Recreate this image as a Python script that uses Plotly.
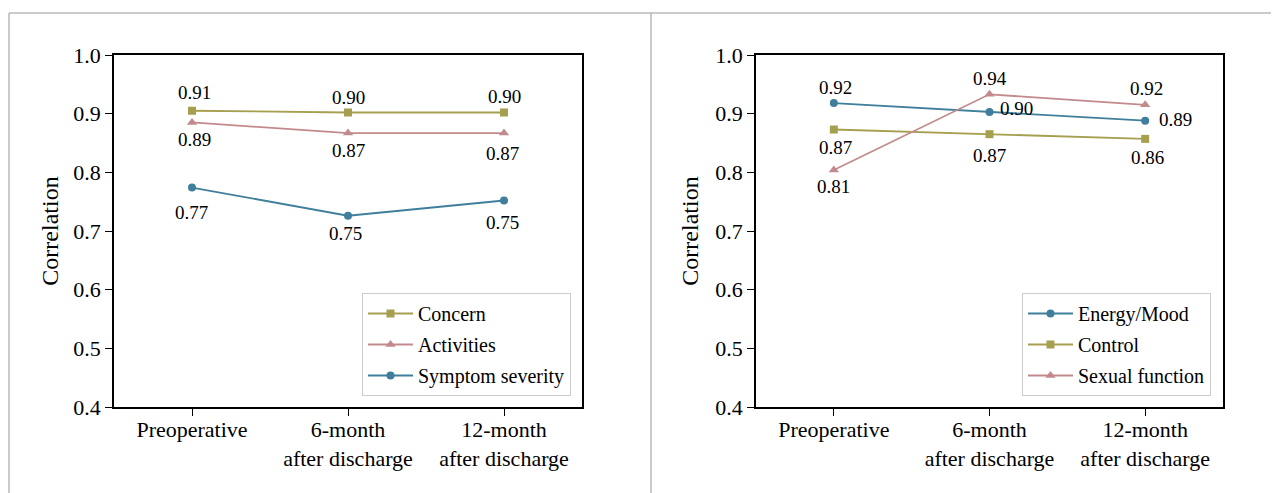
import plotly.graph_objects as go

# ---- data ----
categories = ["Preoperative", "6-month<br>after discharge", "12-month<br>after discharge"]
y_ticks = [0.4, 0.5, 0.6, 0.7, 0.8, 0.9, 1.0]
y_tick_labels = ["0.4", "0.5", "0.6", "0.7", "0.8", "0.9", "1.0"]

concern = [0.905, 0.902, 0.902]
activities = [0.885, 0.867, 0.867]
symptom_severity = [0.774, 0.726, 0.752]
concern_labels = ["0.91", "0.90", "0.90"]
activities_labels = ["0.89", "0.87", "0.87"]
symptom_labels = ["0.77", "0.75", "0.75"]

energy_mood = [0.918, 0.903, 0.888]
control = [0.873, 0.865, 0.857]
sexual_function = [0.804, 0.933, 0.915]
energy_labels = ["0.92", "0.90", "0.89"]
control_labels = ["0.87", "0.87", "0.86"]
sexual_labels = ["0.81", "0.94", "0.92"]

# ---- styles ----
OLIVE = "#a69f50"
PINK = "#c38a8d"
TEAL = "#3f7f9b"
FONT = "Liberation Serif"
FS_LABEL = 19
FS_TICK = 22
FS_TITLE = 24
FS_LEGEND = 20

# label pixel offsets (dx, dy with dy positive = downward)
off_concern = [(2, -18), (0, -15), (0, -16)]
off_activities = [(2, 17), (0, 17), (-2, 20)]
off_symptom = [(-1, 25), (-3, 18), (-2, 22)]
off_energy = [(2, -16), (27, -3), (30, -1)]
off_control = [(2, 18), (0, 21), (2, 19)]
off_sexual = [(0, 17), (0, -16), (1, -16)]

xs = list(range(len(categories)))
fig = go.Figure()

series = [
    ("Concern", concern, OLIVE, "square", "x", "y", "legend", concern_labels, off_concern),
    ("Activities", activities, PINK, "triangle-up", "x", "y", "legend", activities_labels, off_activities),
    ("Symptom severity", symptom_severity, TEAL, "circle", "x", "y", "legend", symptom_labels, off_symptom),
    ("Energy/Mood", energy_mood, TEAL, "circle", "x2", "y2", "legend2", energy_labels, off_energy),
    ("Control", control, OLIVE, "square", "x2", "y2", "legend2", control_labels, off_control),
    ("Sexual function", sexual_function, PINK, "triangle-up", "x2", "y2", "legend2", sexual_labels, off_sexual),
]

annotations = []
for k, (name, vals, col, sym, xa, ya, lg, labs, offs) in enumerate(series):
    fig.add_trace(go.Scatter(
        x=xs, y=vals, name=name, mode="lines+markers",
        line=dict(color=col, width=1.8),
        marker=dict(color=col, symbol=sym, size=9 if sym == "triangle-up" else 8),
        xaxis=xa, yaxis=ya, legend=lg, legendgroup="g%d" % k,
    ))
    for i, (v, t, (dx, dy)) in enumerate(zip(vals, labs, offs)):
        annotations.append(dict(
            x=xs[i], y=v, xref=xa, yref=ya, text=t, showarrow=False,
            xshift=dx, yshift=-dy, font=dict(family=FONT, size=FS_LABEL, color="black"),
        ))

# The page body adds an 8px offset; figure coords = screen coords - 8
OFF = 8
W, H = 1279 - OFF, 493 - OFF
TOP, BOT = 55, 407  # screen y of plot top / bottom
plot_h = BOT - TOP


def px(sx):
    return (sx - OFF) / W


def py(sy):
    return (BOT - sy) / plot_h


axis_common = dict(
    showline=True, linecolor="black", linewidth=1.5, mirror=True,
    ticks="outside", ticklen=7, tickwidth=1.2, tickcolor="black",
    showgrid=False, zeroline=False,
    tickfont=dict(family=FONT, size=FS_TICK, color="black"),
)
title_font = dict(family=FONT, size=FS_TITLE, color="black")

xaxis = dict(axis_common, tickmode="array", tickvals=xs, ticktext=categories,
             range=[-0.5, 2.5], domain=[px(114), px(582)], anchor="y", ticklabelstandoff=-5)
xaxis2 = dict(axis_common, tickmode="array", tickvals=xs, ticktext=categories,
              range=[-0.5, 2.5], domain=[px(756), px(1223)], anchor="y2", ticklabelstandoff=-5)
yaxis = dict(axis_common, tickmode="array", tickvals=y_ticks, ticktext=y_tick_labels,
             range=[0.4, 1.0], domain=[0, 1], anchor="x",
             title=dict(text="Correlation", font=title_font, standoff=8))
yaxis2 = dict(axis_common, tickmode="array", tickvals=y_ticks, ticktext=y_tick_labels,
              range=[0.4, 1.0], domain=[0, 1], anchor="x2",
              title=dict(text="Correlation", font=title_font, standoff=10))

legend_common = dict(
    bgcolor="white", bordercolor="#cccccc", borderwidth=1,
    font=dict(family=FONT, size=FS_LEGEND, color="black"),
    xanchor="right", yanchor="bottom", tracegroupgap=2, itemwidth=45,
)

fig.update_layout(
    width=W, height=H,
    margin=dict(l=0, r=0, t=TOP - OFF, b=493 - BOT, pad=0),
    paper_bgcolor="white", plot_bgcolor="white",
    xaxis=xaxis, xaxis2=xaxis2, yaxis=yaxis, yaxis2=yaxis2,
    legend=dict(legend_common, x=px(571), y=py(396)),
    legend2=dict(legend_common, x=px(1211), y=py(396)),
    annotations=annotations,
    showlegend=True,
    shapes=[
        dict(type="line", xref="paper", yref="paper", x0=px(9), x1=1, y0=py(13), y1=py(13),
             line=dict(color="#b8b8b8", width=1.5)),
        dict(type="line", xref="paper", yref="paper", x0=px(9), x1=px(9), y0=py(13), y1=py(493),
             line=dict(color="#b8b8b8", width=1.5)),
        dict(type="line", xref="paper", yref="paper", x0=px(651), x1=px(651), y0=py(13), y1=py(493),
             line=dict(color="#b8b8b8", width=1.5)),
    ],
)

fig.write_html("out.html")
